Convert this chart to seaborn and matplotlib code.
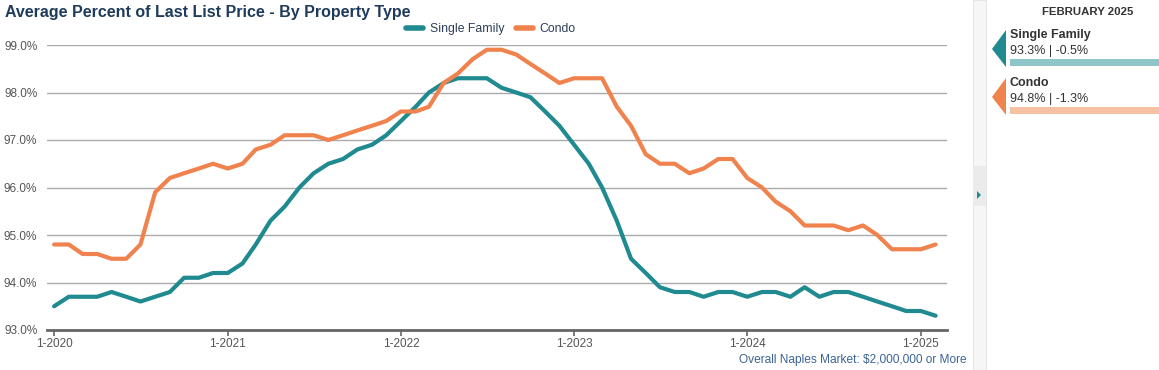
import matplotlib
matplotlib.use('Agg')
import matplotlib.pyplot as plt
from matplotlib.patches import Polygon, Rectangle
from matplotlib.lines import Line2D
import pandas as pd
import seaborn as sns

# Monthly values, Jan 2020 .. Feb 2025
months = pd.date_range('2020-01-01', periods=62, freq='MS')

single_family = [
    93.5, 93.7, 93.7, 93.7, 93.8, 93.7, 93.6, 93.7, 93.8, 94.1, 94.1, 94.2,
    94.2, 94.4, 94.8, 95.3, 95.6, 96.0, 96.3, 96.5, 96.6, 96.8, 96.9, 97.1,
    97.4, 97.7, 98.0, 98.2, 98.3, 98.3, 98.3, 98.1, 98.0, 97.9, 97.6, 97.3,
    96.9, 96.5, 96.0, 95.3, 94.5, 94.2, 93.9, 93.8, 93.8, 93.7, 93.8, 93.8,
    93.7, 93.8, 93.8, 93.7, 93.9, 93.7, 93.8, 93.8, 93.7, 93.6, 93.5, 93.4,
    93.4, 93.3,
]
condo = [
    94.8, 94.8, 94.6, 94.6, 94.5, 94.5, 94.8, 95.9, 96.2, 96.3, 96.4, 96.5,
    96.4, 96.5, 96.8, 96.9, 97.1, 97.1, 97.1, 97.0, 97.1, 97.2, 97.3, 97.4,
    97.6, 97.6, 97.7, 98.2, 98.4, 98.7, 98.9, 98.9, 98.8, 98.6, 98.4, 98.2,
    98.3, 98.3, 98.3, 97.7, 97.3, 96.7, 96.5, 96.5, 96.3, 96.4, 96.6, 96.6,
    96.2, 96.0, 95.7, 95.5, 95.2, 95.2, 95.2, 95.1, 95.2, 95.0, 94.7, 94.7,
    94.7, 94.8,
]

series_names = ['Single Family', 'Condo']
tick_years = [2020, 2021, 2022, 2023, 2024, 2025]
y_ticks = [93, 94, 95, 96, 97, 98, 99]

panel_month = 'FEBRUARY 2025'
panel_values = ['93.3% | -0.5%', '94.8% | -1.3%']

TEAL = '#1f8a90'
ORANGE = '#f0824e'
TEAL_LIGHT = '#8ec5c8'
ORANGE_LIGHT = '#f6c1a2'
NAVY = '#1f3b5c'
GRAY = '#555555'

df = pd.concat([
    pd.DataFrame({'month': months, 'value': single_family, 'type': 'Single Family'}),
    pd.DataFrame({'month': months, 'value': condo, 'type': 'Condo'}),
])

sns.set_theme(style='white')
plt.rcParams['font.family'] = ['Liberation Sans', 'DejaVu Sans']

W, H = 1159, 370
fig = plt.figure(figsize=(W / 100, H / 100), dpi=100)
ax = fig.add_axes([47 / W, 40 / H, 900 / W, 285 / H])

sns.lineplot(data=df, x='month', y='value', hue='type', hue_order=series_names,
             palette=[TEAL, ORANGE], linewidth=3.0, legend=False, ax=ax,
             solid_capstyle='round', solid_joinstyle='round')
for ln in ax.lines:
    ln.set_clip_on(False)

ax.set_ylim(93, 99)
ax.set_xlim(pd.Timestamp('2019-12-17'), pd.Timestamp('2025-02-25'))
ax.set_yticks(y_ticks)
ax.set_yticklabels([f'{v:.1f}%' for v in y_ticks], fontsize=8.5, color=GRAY)
ax.set_xticks([pd.Timestamp(f'{y}-01-01') for y in tick_years])
ax.set_xticklabels([f'1-{y}' for y in tick_years], fontsize=8.5, color=GRAY)
ax.set_xlabel('')
ax.set_ylabel('')

ax.grid(axis='y', color='#aaaaaa', linewidth=1)
ax.grid(axis='x', visible=False)
for side in ['top', 'right', 'left']:
    ax.spines[side].set_visible(False)
ax.spines['bottom'].set_color('#666666')
ax.spines['bottom'].set_linewidth(2)
ax.tick_params(axis='x', bottom=True, length=4, width=1.2, color='#666666', pad=2)
ax.tick_params(axis='y', left=False, length=0, pad=7)

# Title and legend
fig.text(5 / W, 1 - 12 / H, 'Average Percent of Last List Price - By Property Type',
         fontsize=11.5, fontweight='bold', color=NAVY, va='center', ha='left')
handles = [Line2D([0], [0], color=TEAL, linewidth=4),
           Line2D([0], [0], color=ORANGE, linewidth=4)]
fig.legend(handles, series_names, loc='center', bbox_to_anchor=(491 / W, 1 - 29 / H),
           ncol=2, frameon=False, fontsize=8.8, handlelength=1.4, handletextpad=0.5,
           columnspacing=1.0, labelcolor='#2c3e58')

fig.text(967 / W, 1 - 360 / H, 'Overall Naples Market: $2,000,000 or More',
         fontsize=8.6, color='#3c6496', ha='right', va='center')

# Right side panel
fig.patches.append(Rectangle((973 / W, 0), 13 / W, 1, transform=fig.transFigure,
                             facecolor='#f6f6f6', edgecolor='#e6e6e6', linewidth=0.8))
fig.patches.append(Rectangle((973 / W, 1 - 206 / H), 13 / W, 40 / H,
                             transform=fig.transFigure, facecolor='#ebebeb', edgecolor='none'))
fig.patches.append(Polygon([(977 / W, 1 - 191 / H), (977 / W, 1 - 199 / H),
                            (981 / W, 1 - 195 / H)], closed=True,
                           transform=fig.transFigure, facecolor=TEAL, edgecolor='none'))

fig.text(1088 / W, 1 - 12 / H, panel_month, fontsize=8.2, fontweight='bold',
         color='#333333', ha='center', va='center')

colors = [(TEAL, TEAL_LIGHT), (ORANGE, ORANGE_LIGHT)]
for i, (name, val) in enumerate(zip(series_names, panel_values)):
    top = 30 + i * 48
    dark, light = colors[i]
    fig.patches.append(Polygon([(1006 / W, 1 - top / H), (992 / W, 1 - (top + 19) / H),
                                (1006 / W, 1 - (top + 37) / H)], closed=True,
                               transform=fig.transFigure, facecolor=dark, edgecolor='none'))
    fig.text(1010 / W, 1 - (top + 5) / H, name, fontsize=9, fontweight='bold',
             color='#333333', ha='left', va='center')
    fig.text(1010 / W, 1 - (top + 21) / H, val, fontsize=9,
             color='#333333', ha='left', va='center')
    fig.patches.append(Rectangle((1010 / W, 1 - (top + 36) / H), 149 / W, 7 / H,
                                 transform=fig.transFigure, facecolor=light, edgecolor='none'))

fig.savefig('out.png', dpi=100)
